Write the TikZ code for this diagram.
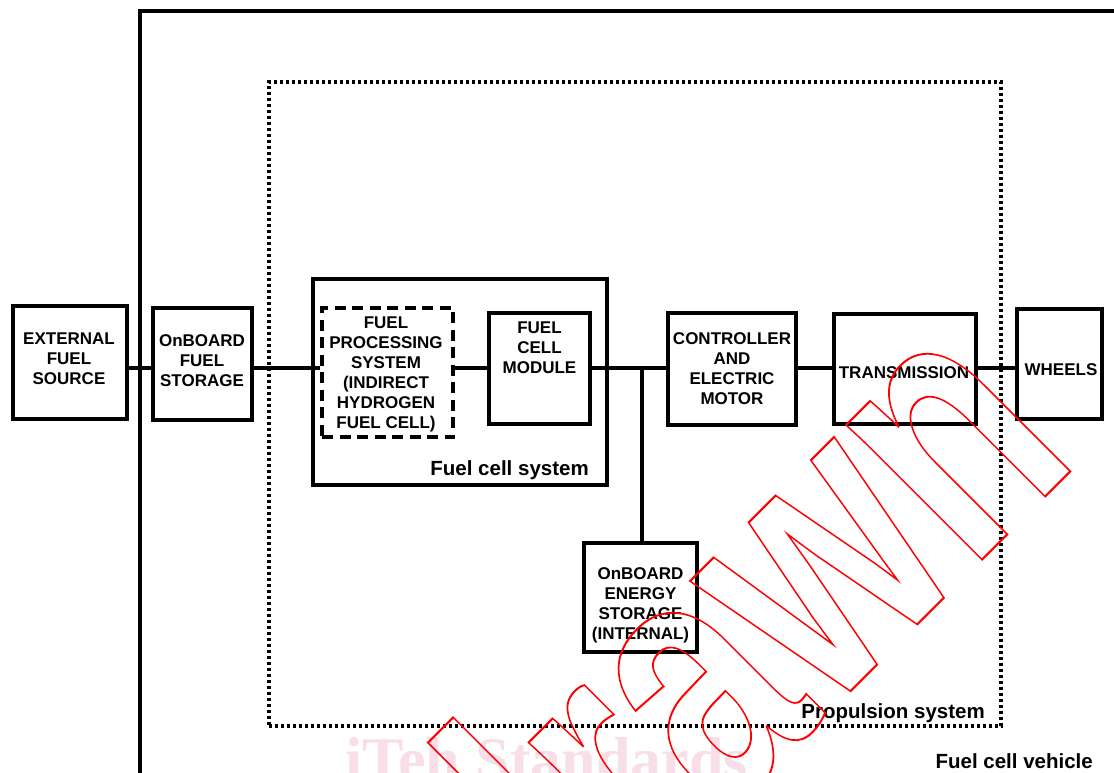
\documentclass[tikz,border=0pt]{standalone}
\usepackage{fontspec}
\setmainfont{Liberation Sans}
\newfontfamily\wmserif{Liberation Serif}
\definecolor{wmpink}{RGB}{248,222,232}
\definecolor{wmred}{RGB}{255,0,0}
\begin{document}
\begin{tikzpicture}[x=1pt,y=-1pt,
  blk/.style={draw, line width=3.3pt, inner sep=0pt, align=center,
    font=\bfseries\fontsize{17}{20}\selectfont},
  txt/.style={inner sep=0pt, align=center, font=\bfseries\fontsize{17}{20}\selectfont},
  conn/.style={line width=3.3pt},
  lbl/.style={inner sep=0pt, font=\bfseries\fontsize{20.5}{24}\selectfont},
  dashbox/.style={draw, line width=3.3pt, dash pattern=on 11pt off 6.5pt},
  dotbox/.style={draw, line width=3.1pt, dash pattern=on 3pt off 3pt}]
\useasboundingbox (0,0) rectangle (1114,773);
\begin{scope}
\clip (0,0) rectangle (1114,773);
% vehicle frame
\coordinate (vbl) at (140,800);
\coordinate (vtl) at (140,11);
\coordinate (vtr) at (1130,11);
\draw[line width=3.3pt] (vbl) -- (vtl) -- (vtr);
\node[lbl, anchor=base east] (vlbl) at (1093,768) {Fuel cell vehicle};
% propulsion system
\node[dotbox, minimum width=732pt, minimum height=644pt, inner sep=0pt] (prop) at (635,404) {};
\node[lbl, anchor=base east] (plbl) at (985,718) {Propulsion system};
% fuel cell system
\node[blk, minimum width=294pt, minimum height=206pt] (fcs) at (460,382) {};
\node[lbl, anchor=base east] (flbl) at (589,475) {Fuel cell system};
% boxes
\node[blk, minimum width=114pt, minimum height=113pt] (ext) at (70,362.5) {};
\node[txt] (extt) at (69,359) {EXTERNAL\\FUEL\\SOURCE};
\node[blk, minimum width=99pt, minimum height=112pt] (obfs) at (202.5,364) {};
\node[txt] (obfst) at (202,360.5) {OnBOARD\\FUEL\\STORAGE};
\node[dashbox, minimum width=131pt, minimum height=129pt, inner sep=0pt] (fps) at (387.5,372.5) {};
\node[txt] (fpst) at (386,374) {FUEL\\PROCESSING\\SYSTEM\\(INDIRECT\\HYDROGEN\\FUEL CELL)};
\node[blk, minimum width=101pt, minimum height=111pt] (fcm) at (539.5,368.5) {};
\node[txt] (fcmt) at (539.5,347.5) {FUEL\\CELL\\MODULE};
\node[blk, minimum width=128pt, minimum height=112pt] (ctrl) at (732,369) {};
\node[txt] (ctrlt) at (732,368.5) {CONTROLLER\\AND\\ELECTRIC\\MOTOR};
\node[blk, minimum width=142pt, minimum height=110pt] (trans) at (905,369) {};
\node[txt] (transt) at (904,372.5) {TRANSMISSION};
\node[blk, minimum width=85pt, minimum height=110pt] (wheels) at (1059.5,364) {};
\node[txt] (wheelst) at (1061,369.5) {WHEELS};
\node[blk, minimum width=113pt, minimum height=109pt] (oes) at (640.5,597.5) {};
\node[txt] (oest) at (640.5,605) {OnBOARD\\ENERGY\\STORAGE\\(INTERNAL)};
% connectors
\coordinate (bus) at (0,368);
\coordinate (j) at (642,368);
\draw[conn] (ext.east |- bus) -- (obfs.west |- bus);
\draw[conn] (obfs.east |- bus) -- (fps.west |- bus);
\draw[conn] (fps.east |- bus) -- (fcm.west |- bus);
\draw[conn] (fcm.east |- bus) -- (ctrl.west |- bus);
\draw[conn] (j) -- (j |- oes.north);
\draw[conn] (ctrl.east |- bus) -- (trans.west |- bus);
\draw[conn] (trans.east |- bus) -- (wheels.west |- bus);
% watermark
\node[anchor=base west, inner sep=0pt, text=wmpink,
  font=\wmserif\bfseries\fontsize{62}{62}\selectfont] (ith) at (345,780) {iTeh Standards};
\node[anchor=base east, inner sep=0pt, text=wmred, rotate=45, xscale=0.72,
  font=\bfseries\fontsize{362}{362}\selectfont] (wd) at (1081.6,460)
  {\special{pdf:literal direct 1 Tr 2 w}Withdrawn\special{pdf:literal direct 0 Tr}};
\end{scope}
\end{tikzpicture}
\end{document}
